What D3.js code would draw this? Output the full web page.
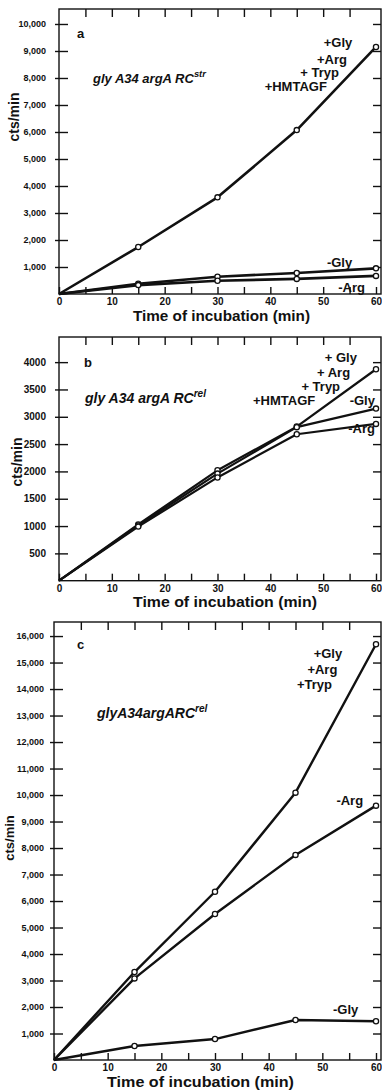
<!DOCTYPE html>
<html>
<head>
<meta charset="utf-8">
<script src="https://cdn.jsdelivr.net/npm/d3@7"></script>
<style>
  body { margin: 0; background: #fff; }
  svg { display: block; }
  text { font-family: "Liberation Sans", Arial, sans-serif; fill: #111; }
</style>
</head>
<body>
<div id="chart"></div>
<script>
// time points (min)
var times = [0, 15, 30, 45, 60];

// panel a: glyA34 argA RCstr
var aPlus = [0, 1740, 3580, 6070, 9150];
var aMinusGly = [0, 380, 640, 780, 950];
var aMinusArg = [0, 330, 490, 560, 670];
var aTicks = [1000, 2000, 3000, 4000, 5000, 6000, 7000, 8000, 9000, 10000];

// panel b: glyA34 argA RCrel
var bPlus = [0, 1030, 2020, 2820, 3870];
var bMinusGly = [0, 1010, 1960, 2810, 3150];
var bMinusArg = [0, 990, 1890, 2680, 2870];
var bTicks = [500, 1000, 1500, 2000, 2500, 3000, 3500, 4000];

// panel c: glyA34 argA RCrel
var cPlus = [0, 3320, 6350, 10090, 15690];
var cMinusArg = [0, 3080, 5510, 7740, 9600];
var cMinusGly = [0, 530, 790, 1510, 1460];
var cTicks = [1000, 2000, 3000, 4000, 5000, 6000, 7000, 8000, 9000, 10000,
              11000, 12000, 13000, 14000, 15000, 16000];

var xTicks = [0, 5, 10, 15, 20, 25, 30, 35, 40, 45, 50, 55, 60];

// curve labels [text, min, cts]
var aLabels = [['+Gly', 55.5, 9300], ['+Arg', 54.5, 8700], ['+ Tryp', 53.0, 8220],
               ['+HMTAGF', 50.7, 7670], ['-Gly', 55.5, 1185], ['-Arg', 57.9, 260]];
var bLabels = [['+ Gly', 56.4, 4090], ['+ Arg', 55.1, 3815], ['+ Tryp', 53.2, 3560],
               ['+HMTAGF', 48.5, 3300], ['-Gly', 59.8, 3300], ['-Arg', 59.8, 2790]];
var cLabels = [['+Gly', 53.7, 15360], ['+Arg', 52.8, 14750], ['+Tryp', 51.8, 14190],
               ['-Arg', 57.6, 9810], ['-Gly', 56.7, 1890]];

var W = 382, H = 1091;
var svg = d3.select('#chart').append('svg')
    .attr('width', W).attr('height', H);
svg.append('rect').attr('width', W).attr('height', H).attr('fill', '#fff');

function drawPanel(p) {
    var x = d3.scaleLinear().domain([0, 60]).range([p.left, 376]);
    var y = d3.scaleLinear().domain([0, p.yMax]).range([p.bottom, p.top]);
    var right = 381;
    var g = svg.append('g');

    // frame
    g.append('rect')
        .attr('x', p.left).attr('y', p.top)
        .attr('width', right - p.left).attr('height', p.bottom - p.top)
        .attr('fill', 'none').attr('stroke', '#111').attr('stroke-width', 1.4);

    // bottom axis, ticks pointing up
    var xa = g.append('g')
        .attr('transform', 'translate(0,' + p.bottom + ')')
        .call(d3.axisBottom(x).tickValues(xTicks).tickSizeInner(-7).tickSizeOuter(0).tickPadding(4)
            .tickFormat(function (d) { return d % 10 === 0 ? d : ''; }));
    xa.select('.domain').remove();
    xa.selectAll('.tick line').attr('stroke', '#111').attr('stroke-width', 1.4);
    xa.selectAll('.tick text').attr('font-size', 10).attr('font-weight', 'bold').attr('fill', '#111');

    // top axis, ticks pointing down
    var ta = g.append('g')
        .attr('transform', 'translate(0,' + p.top + ')')
        .call(d3.axisTop(x).tickValues(xTicks.slice(1, -1)).tickSizeInner(-8).tickSizeOuter(0).tickFormat(''));
    ta.select('.domain').remove();
    ta.selectAll('.tick line').attr('stroke', '#111').attr('stroke-width', 1.4);

    // left axis, ticks crossing the line
    var ya = g.append('g')
        .attr('transform', 'translate(' + p.left + ',0)')
        .call(d3.axisLeft(y).tickValues(p.ticks).tickSizeOuter(0).tickPadding(p.tickPad)
            .tickFormat(p.fmt));
    ya.select('.domain').remove();
    ya.selectAll('.tick line').attr('x1', -4).attr('x2', 9)
        .attr('stroke', '#111').attr('stroke-width', 1.4);
    ya.selectAll('.tick text').attr('font-size', p.tickFont).attr('font-weight', 'bold').attr('fill', '#111');

    // right axis, ticks pointing left
    var ra = g.append('g')
        .attr('transform', 'translate(' + right + ',0)')
        .call(d3.axisRight(y).tickValues(p.ticks).tickSizeInner(-8).tickSizeOuter(0).tickFormat(''));
    ra.select('.domain').remove();
    ra.selectAll('.tick line').attr('stroke', '#111').attr('stroke-width', 1.4);

    // curves
    var line = d3.line()
        .x(function (d, i) { return x(times[i]); })
        .y(function (d) { return y(d); });
    p.series.forEach(function (s) {
        g.append('path')
            .datum(s)
            .attr('d', line)
            .attr('fill', 'none')
            .attr('stroke', '#111')
            .attr('stroke-width', p.lineW)
            .attr('stroke-linejoin', 'round');
    });
    p.series.forEach(function (s) {
        g.selectAll(null)
            .data(s.slice(1))
            .enter()
            .append('circle')
            .attr('cx', function (d, i) { return x(times[i + 1]); })
            .attr('cy', function (d) { return y(d); })
            .attr('r', 2.6)
            .attr('fill', '#fff')
            .attr('stroke', '#111')
            .attr('stroke-width', 1.3);
    });

    // curve labels
    g.selectAll(null)
        .data(p.labels)
        .enter()
        .append('text')
        .attr('x', function (d) { return x(d[1]); })
        .attr('y', function (d) { return y(d[2]); })
        .attr('dy', '0.35em')
        .attr('text-anchor', 'end')
        .attr('font-size', p.labFont)
        .attr('font-weight', 'bold')
        .text(function (d) { return d[0]; });

    // panel letter
    g.append('text')
        .attr('x', p.letter[0]).attr('y', p.letter[1])
        .attr('dy', '0.35em')
        .attr('font-size', 13).attr('font-weight', 'bold')
        .text(p.letter[2]);

    // strain name
    var st = g.append('text')
        .attr('x', p.strain[0]).attr('y', p.strain[1])
        .attr('dy', '0.35em')
        .attr('font-size', p.strain[3])
        .attr('font-weight', 'bold')
        .attr('font-style', 'italic');
    st.append('tspan').text(p.strain[2]);
    st.append('tspan')
        .attr('dy', -6)
        .attr('font-size', p.strain[3] * 0.72)
        .text(p.strain[4]);

    // axis titles
    g.append('text')
        .attr('transform', 'translate(' + p.yTitle[0] + ',' + p.yTitle[1] + ') rotate(-90)')
        .attr('text-anchor', 'middle')
        .attr('dy', '0.35em')
        .attr('font-size', p.yTitle[2])
        .attr('font-weight', 'bold')
        .text('cts/min');
    g.append('text')
        .attr('x', p.xTitle[0]).attr('y', p.xTitle[1])
        .attr('dy', '0.35em')
        .attr('font-size', 14)
        .attr('font-weight', 'bold')
        .attr('textLength', p.xTitle[2])
        .attr('lengthAdjust', 'spacingAndGlyphs')
        .text('Time of incubation (min)');
}

var commaFmt = d3.format(',');

drawPanel({
    left: 59, top: 9, bottom: 294, yMax: 10555,
    ticks: aTicks, fmt: commaFmt, tickFont: 9, tickPad: 7,
    series: [aPlus, aMinusGly, aMinusArg], lineW: 2.6,
    labels: aLabels, labFont: 13,
    letter: [77, 33, 'a'],
    strain: [93, 78, 'gly A34 argA RC', 13, 'str'],
    yTitle: [14, 117, 14], xTitle: [133, 316, 177]
});
drawPanel({
    left: 59, top: 337, bottom: 580.7, yMax: 4460,
    ticks: bTicks, fmt: d3.format('d'), tickFont: 10, tickPad: 7,
    series: [bPlus, bMinusGly, bMinusArg], lineW: 2.2,
    labels: bLabels, labFont: 13,
    letter: [84, 362, 'b'],
    strain: [85, 398, 'gly A34 argA RC', 14, 'rel'],
    yTitle: [17, 462, 14], xTitle: [133, 602, 184]
});
drawPanel({
    left: 54, top: 622, bottom: 1060, yMax: 16530,
    ticks: cTicks, fmt: commaFmt, tickFont: 9, tickPad: 4,
    series: [cPlus, cMinusArg, cMinusGly], lineW: 2.4,
    labels: cLabels, labFont: 13,
    letter: [77, 644, 'c'],
    strain: [97, 713, 'glyA34argARC', 14, 'rel'],
    yTitle: [9, 838, 13], xTitle: [107, 1082, 187]
});
</script>
</body>
</html>
